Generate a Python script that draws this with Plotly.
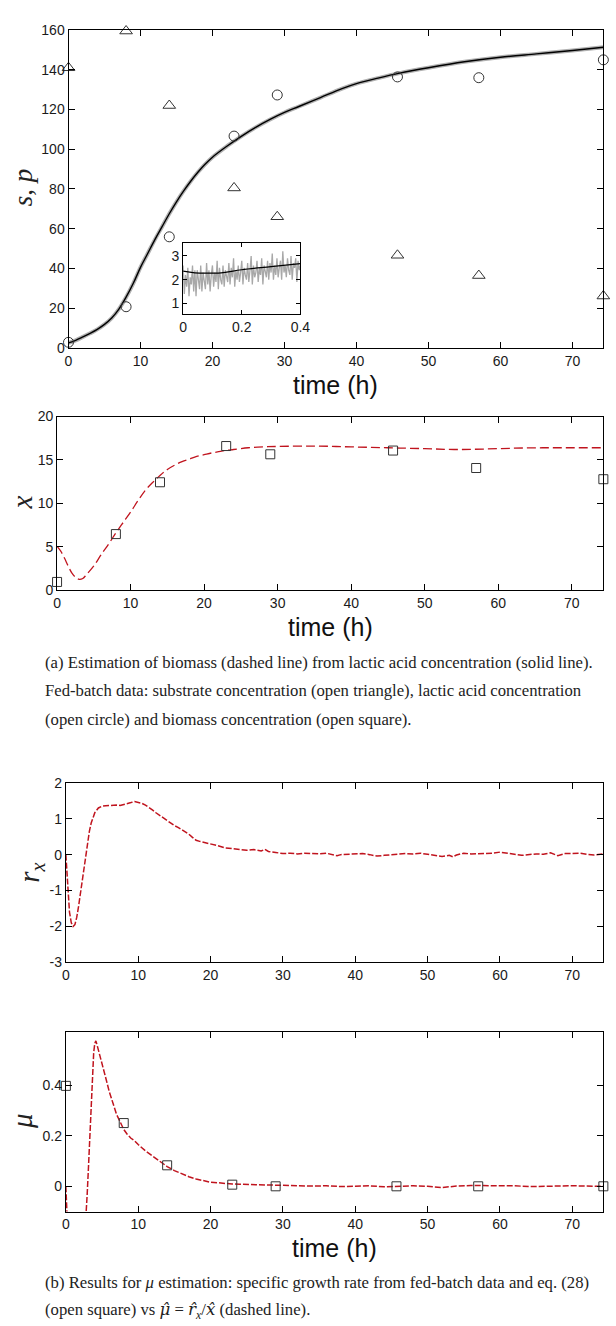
import numpy as np
import plotly.graph_objects as go

W, H = 616, 1326

# ---------------- data ----------------
t_data = [0, 8, 14, 23, 29, 45.7, 57, 74.3]
substrate = [141, 159.5, 122, 80.5, 66, 46.6, 36.4, 26.1]
lactic = [2.8, 20.7, 55.9, 106.6, 127.3, 136.4, 136.0, 145.0]
biomass = [0.95, 6.46, 12.43, 16.6, 15.65, 16.08, 14.07, 12.78]
mu_data = [0.397, 0.25, 0.083, 0.0065, 0.0, 0.0, 0.0, 0.0]

t_p = [0, 1, 2, 3, 4, 5, 6, 7, 8, 9, 10, 11, 12, 13, 14, 15, 16, 17, 18, 19, 20,
       22, 24, 26, 28, 30, 32, 35, 38, 40, 43, 46, 50, 55, 60, 65, 70, 74.3]
p_est = [2.5, 3.8, 5.5, 7.3, 9.3, 11.8, 15.0, 19.5, 25.5, 32.5, 40.5, 47.5, 54.5, 61.0, 67.5,
         73.5, 79.0, 84.0, 88.5, 92.5, 96.0, 101.5, 106.5, 111.0, 115.0, 118.5, 121.5, 126.0,
         130.5, 133.0, 135.8, 138.3, 141.0, 144.0, 146.3, 148.0, 149.7, 151.3]

inset_t_line = [0, 0.04, 0.1, 0.13, 0.2, 0.3, 0.4]
inset_p_line = [2.36, 2.29, 2.28, 2.29, 2.42, 2.55, 2.68]
inset_meas = [2.6, 1.4, 2.2, 1.7, 2.5, 1.3, 2.1, 1.8, 2.6, 1.5, 2.4, 1.3, 2.4, 1.9, 1.6, 2.6,
              1.5, 2.3, 2.0, 1.6, 2.7, 1.8, 2.4, 1.5, 2.2, 2.6, 1.7, 2.3, 1.9, 2.8, 1.6, 2.5,
              2.0, 1.8, 2.6, 1.7, 2.4, 2.2, 1.9, 2.7, 1.8, 2.5, 2.1, 2.9, 1.7, 2.4, 2.0, 2.6,
              1.9, 2.3, 2.8, 1.8, 2.5, 2.2, 2.0, 2.7, 1.9, 2.4, 3.0, 1.8, 2.6, 2.1, 2.3, 2.8,
              1.9, 2.5, 2.2, 2.9, 1.8, 2.6, 2.4, 2.1, 2.8, 2.0, 2.7, 2.3, 3.1, 2.0, 2.6, 2.2,
              2.9, 2.1, 2.5, 2.8, 2.0, 3.2, 2.3, 2.6, 2.1, 2.9, 2.4, 2.2, 3.0, 2.0, 2.7, 2.5,
              2.9, 1.9, 2.8, 2.4, 2.6]
inset_t_meas = np.linspace(0, 0.4, len(inset_meas))

t_x = [0, 0.5, 1, 1.5, 2, 2.5, 3, 3.5, 4, 5, 6, 7, 8, 9, 10, 11, 12, 13, 14, 15, 16, 17, 18,
       19, 20, 21, 22, 23, 24, 26, 28, 30, 35, 40, 45, 50, 54, 58, 62, 66, 70, 74.3]
x_est = [5.05, 4.5, 3.7, 2.8, 2.0, 1.5, 1.25, 1.35, 1.8, 2.8, 4.1, 5.3, 6.6, 7.8, 9.0, 10.3,
         11.5, 12.4, 13.2, 13.9, 14.4, 14.8, 15.1, 15.4, 15.6, 15.8, 15.95, 16.1, 16.2, 16.4,
         16.5, 16.55, 16.6, 16.5, 16.4, 16.3, 16.2, 16.25, 16.35, 16.4, 16.4, 16.4]

t_r = [0, 0.15, 0.3, 0.5, 0.75, 1.0, 1.25, 1.5, 1.75, 2.0, 2.25, 2.5, 2.75, 3.0, 3.25, 3.5,
       3.75, 4.0, 4.5, 5.0, 5.5, 6, 6.5, 7, 7.5, 8, 8.5, 9, 9.5, 10, 10.5, 11, 11.5, 12, 12.5,
       13, 13.5, 14, 14.5, 15, 15.5, 16, 16.5, 17, 17.5, 18, 18.5, 19, 19.5, 20, 21, 22, 23,
       24, 25, 26, 27, 27.5, 28, 29, 30, 31, 32, 33, 34, 35, 36, 37, 37.5, 38, 39, 40, 41,
       42, 43, 44, 45, 46, 47, 48, 49, 50, 51, 52, 53, 53.5, 54, 55, 56, 57, 58, 59, 60, 61,
       62, 63, 64, 65, 66, 67, 68, 69, 70, 71, 72, 73, 74.3]
r_x = [0.0, -0.6, -1.1, -1.6, -1.9, -2.0, -1.95, -1.75, -1.45, -1.1, -0.75, -0.4, -0.02, 0.35,
       0.65, 0.88, 1.05, 1.17, 1.3, 1.35, 1.36, 1.37, 1.36, 1.38, 1.37, 1.39, 1.42, 1.45, 1.48,
       1.46, 1.43, 1.38, 1.32, 1.24, 1.16, 1.09, 1.01, 0.93, 0.86, 0.81, 0.76, 0.70, 0.65,
       0.57, 0.48, 0.40, 0.37, 0.35, 0.32, 0.30, 0.25, 0.19, 0.16, 0.14, 0.12, 0.14, 0.10,
       0.15, 0.09, 0.06, 0.03, 0.04, 0.02, 0.04, 0.03, 0.02, 0.04, 0.0, -0.03, 0.0, 0.01,
       0.02, 0.03, 0.0, -0.04, -0.02, 0.0, 0.02, 0.03, 0.02, 0.04, 0.01, -0.02, -0.05, -0.02,
       -0.06, -0.01, 0.04, 0.02, 0.03, 0.02, 0.04, 0.07, 0.03, 0.01, -0.02, 0.0, 0.02, 0.01,
       0.05, -0.03, 0.03, 0.03, 0.04, 0.01, -0.01, 0.02]

t_mu = [0, 0.05, 0.5, 1.0, 1.5, 2.0, 2.5, 2.8, 2.95, 3.1, 3.25, 3.4, 3.55, 3.7, 3.85, 4.0,
        4.15, 4.3, 4.5, 5.0, 5.5, 6.0, 6.5, 7.0, 7.5, 8.0, 8.5, 9.0, 9.5, 10, 11, 12, 13, 14,
        15, 16, 17, 18, 19, 20, 21, 22, 23, 24, 26, 28, 30, 32, 34, 36, 38, 40, 42, 44, 46,
        48, 50, 52, 53, 54, 56, 58, 60, 62, 64, 66, 68, 70, 72, 74.3]
mu_est = [0.0, -0.12, -0.35, -0.54, -0.6, -0.5, -0.27, -0.1, -0.03, 0.06, 0.15, 0.27, 0.38,
          0.47, 0.53, 0.565, 0.575, 0.56, 0.54, 0.485, 0.43, 0.374, 0.33, 0.285, 0.255, 0.225,
          0.205, 0.19, 0.18, 0.165, 0.14, 0.12, 0.097, 0.078, 0.062, 0.049, 0.038, 0.029,
          0.022, 0.016, 0.014, 0.011, 0.009, 0.008, 0.006, 0.004, 0.002, 0.003, 0.001, 0.002,
          -0.001, 0.0, 0.002, -0.002, 0.0, 0.002, 0.0, -0.005, -0.002, 0.001, 0.003, 0.002,
          0.004, 0.002, -0.001, 0.001, 0.002, 0.002, 0.001, 0.0]

rx_ticks = [-3, -2, -1, 0, 1, 2]
rx_ticktext = ["-3", "-2", "-1", "0", "1", "2"]

HAT = "<span style='font-family:DejaVu Serif'>"
caption_a = [
    "(a) Estimation of biomass (dashed line) from lactic acid concentration (solid line).",
    "Fed-batch data: substrate concentration (open triangle), lactic acid concentration",
    "(open circle) and biomass concentration (open square).",
]
caption_b = [
    "(b) Results for <i>μ</i> estimation: specific growth rate from fed-batch data and eq. (28)",
    "(open square) vs " + HAT + "<i>μ̂</i></span> = " + HAT + "<i>r̂</i></span><sub><i>x</i></sub>/"
    + HAT + "<i>x̂</i></span> (dashed line).",
]

# ---------------- layout helpers ----------------
def xd(x0, x1):
    return [x0 / W, x1 / W]

def yd(ytop, ybot):
    return [1 - ybot / H, 1 - ytop / H]

RED = "#c0141e"
MK = "#333333"
TICKFONT = dict(family="Liberation Sans, Arial, sans-serif", size=14, color="#1a1a1a")

def ax(**kw):
    d = dict(showline=True, linecolor="black", linewidth=1, mirror="ticks",
             ticks="inside", ticklen=6, tickwidth=1, tickcolor="black",
             showgrid=False, zeroline=False, tickfont=TICKFONT)
    d.update(kw)
    return d

fig = go.Figure()

# Panel 1
fig.add_trace(go.Scatter(x=t_p, y=p_est, mode="lines", line=dict(color="#b0b0b0", width=4, shape="spline"),
                         xaxis="x", yaxis="y", showlegend=False))
fig.add_trace(go.Scatter(x=t_p, y=p_est, mode="lines", line=dict(color="black", width=1.4, shape="spline"),
                         xaxis="x", yaxis="y", showlegend=False))
fig.add_trace(go.Scatter(x=t_data, y=substrate, mode="markers",
                         marker=dict(symbol="triangle-up-open", size=11, color=MK, line=dict(width=1)),
                         xaxis="x", yaxis="y", showlegend=False, cliponaxis=False))
fig.add_trace(go.Scatter(x=t_data, y=lactic, mode="markers",
                         marker=dict(symbol="circle-open", size=10, color=MK, line=dict(width=1)),
                         xaxis="x", yaxis="y", showlegend=False, cliponaxis=False))
# Inset
fig.add_trace(go.Scatter(x=inset_t_meas, y=inset_meas, mode="lines",
                         line=dict(color="#a8a8a8", width=1.3), xaxis="x5", yaxis="y5", showlegend=False))
fig.add_trace(go.Scatter(x=inset_t_line, y=inset_p_line, mode="lines",
                         line=dict(color="black", width=1.2, shape="spline"), xaxis="x5", yaxis="y5",
                         showlegend=False))
# Panel 2
fig.add_trace(go.Scatter(x=t_x, y=x_est, mode="lines",
                         line=dict(color=RED, width=1.3, dash="9px,4px", shape="spline"),
                         xaxis="x2", yaxis="y2", showlegend=False))
fig.add_trace(go.Scatter(x=t_data, y=biomass, mode="markers",
                         marker=dict(symbol="square-open", size=9, color=MK, line=dict(width=1)),
                         xaxis="x2", yaxis="y2", showlegend=False, cliponaxis=False))
# Panel 3
fig.add_trace(go.Scatter(x=t_r, y=r_x, mode="lines", line=dict(color=RED, width=1.5, dash="6px,2px"),
                         xaxis="x3", yaxis="y3", showlegend=False))
# Panel 4
fig.add_trace(go.Scatter(x=t_mu, y=mu_est, mode="lines", line=dict(color=RED, width=1.5, dash="6px,2px"),
                         xaxis="x4", yaxis="y4", showlegend=False))
fig.add_trace(go.Scatter(x=t_data, y=mu_data, mode="markers",
                         marker=dict(symbol="square-open", size=9, color=MK, line=dict(width=1)),
                         xaxis="x4", yaxis="y4", showlegend=False, cliponaxis=False))

XR = [0, 74.3]
fig.update_layout(
    width=W, height=H, margin=dict(l=0, r=0, t=0, b=0),
    paper_bgcolor="white", plot_bgcolor="white", showlegend=False,
    xaxis=ax(domain=xd(66, 613.3), range=XR, tick0=0, dtick=10, anchor="y"),
    yaxis=ax(domain=yd(22.3, 344), range=[0, 160], tick0=0, dtick=20, anchor="x"),
    xaxis2=ax(domain=xd(54.3, 613.3), range=XR, tick0=0, dtick=10, anchor="y2"),
    yaxis2=ax(domain=yd(413.5, 589.3), range=[0, 20], tick0=0, dtick=5, anchor="x2"),
    xaxis3=ax(domain=xd(63.3, 613.3), range=XR, tick0=0, dtick=10, anchor="y3"),
    yaxis3=ax(domain=yd(784.3, 966), range=[-3, 2], tickvals=rx_ticks, ticktext=rx_ticktext, anchor="x3"),
    xaxis4=ax(domain=xd(63.3, 613.3), range=XR, tick0=0, dtick=10, anchor="y4"),
    yaxis4=ax(domain=yd(1036.5, 1218.3), range=[-0.1, 0.61], tickvals=[0, 0.2, 0.4],
              ticktext=["0", "0.2", "0.4"], anchor="x4"),
    xaxis5=ax(domain=xd(183.3, 303.3), range=[0, 0.4], tickvals=[0, 0.2, 0.4],
              ticktext=["0", "0.2", "0.4"], anchor="y5", ticklen=4),
    yaxis5=ax(domain=yd(238.3, 310), range=[0.54, 3.53], tickvals=[1, 2, 3], anchor="x5", ticklen=4),
)

ann = []
def px_ann(text, x, y, **kw):
    d = dict(text=text, x=x / W, y=1 - y / H, xref="paper", yref="paper",
             showarrow=False, xanchor="center", yanchor="middle")
    d.update(kw)
    ann.append(d)

SERIF = "Liberation Serif, Times New Roman, serif"
SANS = "Liberation Sans, Arial, sans-serif"
px_ann("<i>s</i>, <i>p</i>", 19, 182, textangle=-90, font=dict(family=SERIF, size=27, color="#222"))
px_ann("<i>x</i>", 18, 501, textangle=-90, font=dict(family=SERIF, size=29, color="#222"))
px_ann("<i>r<sub>x</sub></i>", 28, 875, textangle=-90, font=dict(family=SERIF, size=29, color="#222"))
px_ann("<i>μ</i>", 19, 1127, textangle=-90, font=dict(family=SERIF, size=29, color="#222"))
for yc, xc in [(382, 339.7), (627, 333.8), (1255, 338.3)]:
    px_ann("time (h)", xc, yc, font=dict(family=SANS, size=25, color="#111"))
for i, line in enumerate(caption_a):
    px_ann(line, 40, 662 + 29 * i, xanchor="left", font=dict(family=SERIF, size=16.7, color="#222"))
for i, line in enumerate(caption_b):
    px_ann(line, 40, 1290 + 28 * i, xanchor="left", font=dict(family=SERIF, size=16.7, color="#222"))
fig.update_layout(annotations=ann)

fig.write_html("out.html", config={"displayModeBar": False},
               post_script="document.body.style.margin='0px';")
